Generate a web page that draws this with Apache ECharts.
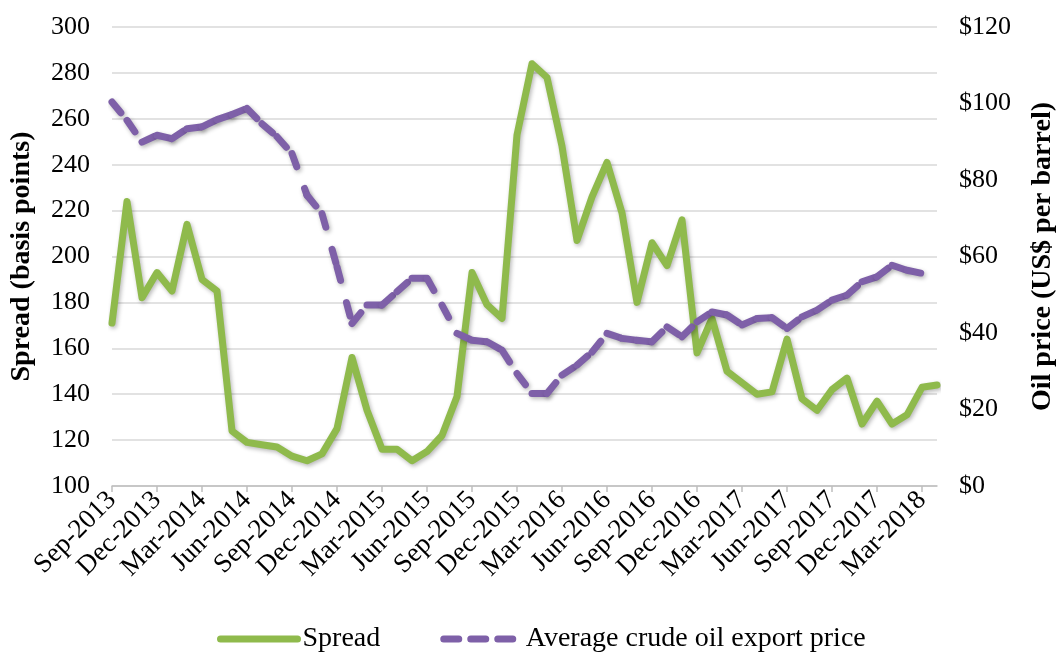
<!DOCTYPE html>
<html>
<head>
<meta charset="utf-8">
<script src="https://cdn.jsdelivr.net/npm/echarts@6/dist/echarts.min.js"></script>
<style>
html,body{margin:0;padding:0;background:#fff;}
#chart{width:1058px;height:652px;}
</style>
</head>
<body>
<div id="chart"></div>
<script>
var categories = [
  'Sep-2013','Oct-2013','Nov-2013','Dec-2013',
  'Jan-2014','Feb-2014','Mar-2014','Apr-2014','May-2014','Jun-2014','Jul-2014','Aug-2014','Sep-2014','Oct-2014','Nov-2014','Dec-2014',
  'Jan-2015','Feb-2015','Mar-2015','Apr-2015','May-2015','Jun-2015','Jul-2015','Aug-2015','Sep-2015','Oct-2015','Nov-2015','Dec-2015',
  'Jan-2016','Feb-2016','Mar-2016','Apr-2016','May-2016','Jun-2016','Jul-2016','Aug-2016','Sep-2016','Oct-2016','Nov-2016','Dec-2016',
  'Jan-2017','Feb-2017','Mar-2017','Apr-2017','May-2017','Jun-2017','Jul-2017','Aug-2017','Sep-2017','Oct-2017','Nov-2017','Dec-2017',
  'Jan-2018','Feb-2018','Mar-2018','Apr-2018'
];
var spread = [171, 224, 182, 193, 185, 214, 190, 185, 124, 119, 118, 117, 113, 111, 114, 125,
  156, 133, 116, 116, 111, 115, 122, 139, 193, 179, 173, 253,
  284, 278, 248, 207, 226, 241, 219, 180, 206, 196, 216, 158,
  173, 150, 145, 140, 141, 164, 138, 133, 142, 147, 127, 137,
  127, 131, 143, 144];
var oilPrice = [100.4, 95.6, 89.9, 91.7, 90.8, 93.4, 93.9, 95.8, 97.1, 98.7, 94.7, 91.3, 86.9, 76.0, 71.2, 57.3,
  42.5, 47.3, 47.3, 50.8, 54.3, 54.3, 47.3, 39.9, 38.1, 37.7, 35.5, 29.4,
  24.2, 24.2, 29.0, 31.6, 35.0, 39.9, 38.6, 38.1, 37.7, 41.6, 39.0, 42.9,
  45.5, 44.7, 42.1, 43.8, 44.0, 41.2, 44.2, 46.0, 48.6, 49.9, 53.4, 54.7,
  57.7, 56.4, 55.6, null];
var leftTicks = {min: 100, max: 300, interval: 20};
var rightTicks = {min: 0, max: 120, interval: 20};

var FONT = "'Liberation Serif','Times New Roman',serif";
var GREEN = '#8FBA4C';
var PURPLE = '#7E60A8';
var LW = 7;
var shadow = {shadowColor: 'rgba(0,0,0,0.28)', shadowBlur: 4, shadowOffsetX: 1.5, shadowOffsetY: 2};

var series = [{
  name: 'Spread', type: 'line', data: spread, yAxisIndex: 0,
  symbol: 'none', silent: true, z: 2,
  lineStyle: Object.assign({color: GREEN, width: LW, cap: 'round', join: 'round'}, shadow)
}, {
  name: 'Average crude oil export price', type: 'line', data: oilPrice, yAxisIndex: 1,
  symbol: 'none', silent: true, z: 1,
  lineStyle: {color: PURPLE, width: LW, opacity: 0}
}];
// each segment restarts its dash pattern (as in the original)
for (var i = 0; i < oilPrice.length - 1; i++) {
  if (oilPrice[i] == null || oilPrice[i + 1] == null) continue;
  var d = oilPrice.map(function (v, k) { return (k === i || k === i + 1) ? v : null; });
  series.push({
    name: 'seg' + i, type: 'line', data: d, yAxisIndex: 1,
    symbol: 'none', silent: true, z: 3, connectNulls: false,
    lineStyle: Object.assign({color: PURPLE, width: LW, type: [14, 23], cap: 'round', join: 'round'}, shadow)
  });
}

var chart = echarts.init(document.getElementById('chart'), null, {renderer: 'canvas'});
chart.setOption({
  animation: false,
  backgroundColor: '#fff',
  textStyle: {fontFamily: FONT},
  grid: {left: 112, right: 121, top: 27, bottom: 166, containLabel: false, outerBoundsMode: 'none'},
  legend: {
    left: 212, top: 620, itemWidth: 77, itemHeight: 10, itemGap: 60,
    textStyle: {fontFamily: FONT, fontSize: 28, color: '#000'},
    data: [
      {name: 'Spread', itemStyle: {opacity: 0}, lineStyle: {color: GREEN, width: LW, cap: 'round', opacity: 1}},
      {name: 'Average crude oil export price', itemStyle: {opacity: 0}, lineStyle: {color: PURPLE, width: LW, type: [15, 12], cap: 'round', opacity: 1}}
    ]
  },
  xAxis: {
    type: 'category', data: categories, boundaryGap: false,
    axisLine: {lineStyle: {color: '#BFBFBF', width: 1.5}},
    axisTick: {interval: 2, length: 6, lineStyle: {color: '#BFBFBF', width: 1.5}},
    axisLabel: {interval: 2, rotate: 45, margin: 10, fontFamily: FONT, fontSize: 27, color: '#000'},
    splitLine: {show: false}
  },
  yAxis: [{
    type: 'value', min: leftTicks.min, max: leftTicks.max, interval: leftTicks.interval,
    name: 'Spread (basis points)', nameLocation: 'middle', nameGap: 76, nameRotate: 90,
    nameTextStyle: {fontFamily: FONT, fontSize: 28, fontWeight: 'bold', color: '#000'},
    axisLine: {show: false}, axisTick: {show: false},
    axisLabel: {margin: 22, fontFamily: FONT, fontSize: 26, color: '#000'},
    splitLine: {lineStyle: {color: '#D9D9D9', width: 1.5}}
  }, {
    type: 'value', position: 'right', min: rightTicks.min, max: rightTicks.max, interval: rightTicks.interval,
    name: 'Oil price (US$ per barrel)', nameLocation: 'middle', nameGap: 92, nameRotate: 90,
    nameTextStyle: {fontFamily: FONT, fontSize: 28, fontWeight: 'bold', color: '#000'},
    axisLine: {show: false}, axisTick: {show: false},
    axisLabel: {margin: 22, fontFamily: FONT, fontSize: 26, color: '#000', formatter: '${value}'},
    splitLine: {show: false}
  }],
  series: series
});
</script>
</body>
</html>
